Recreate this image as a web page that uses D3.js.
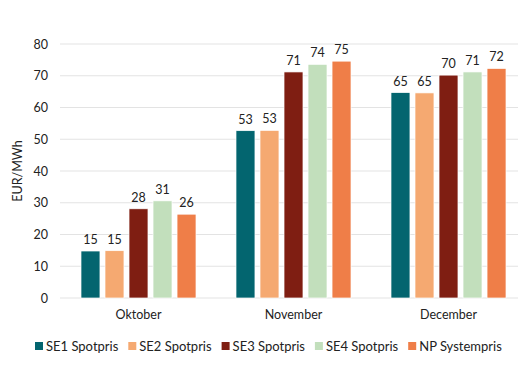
<!DOCTYPE html>
<html>
<head>
<meta charset="utf-8">
<script src="https://cdn.jsdelivr.net/npm/d3@7"></script>
<style>
  body { margin: 0; background: #fff; }
  svg { font-family: Lato, "Open Sans", sans-serif; }
</style>
</head>
<body>
<div id="chart"></div>
<script>
const months = ['Oktober', 'November', 'December'];
const seriesNames = ['SE1 Spotpris', 'SE2 Spotpris', 'SE3 Spotpris', 'SE4 Spotpris', 'NP Systempris'];
const seriesColors = ['#03656f', '#f5a971', '#7f1e12', '#c2dfbc', '#ef7e48'];
const se1 = [14.8, 52.7, 64.7];
const se2 = [14.9, 52.8, 64.6];
const se3 = [28.1, 71.2, 70.2];
const se4 = [30.6, 73.6, 71.2];
const np = [26.4, 74.6, 72.3];
const yTicks = [0, 10, 20, 30, 40, 50, 60, 70, 80];

const values = [se1, se2, se3, se4, np];
const w = 530, h = 377;
const margin = { left: 60, right: 12, top: 44, bottom: 79 };

const svg = d3.select('#chart')
  .append('svg')
  .attr('width', w)
  .attr('height', h);

const x0 = d3.scaleBand()
  .domain(months)
  .range([61, 526])
  .paddingInner(0.258)
  .paddingOuter(0.129);

const x1 = d3.scaleBand()
  .domain(seriesNames)
  .range([0, x0.bandwidth()])
  .paddingInner(0.21)
  .paddingOuter(0);

const y = d3.scaleLinear()
  .domain([0, 80])
  .range([h - margin.bottom, margin.top]);

// gridlines
svg.append('g')
  .selectAll('line')
  .data(yTicks)
  .enter()
  .append('line')
  .attr('x1', margin.left)
  .attr('x2', w - margin.right)
  .attr('y1', d => y(d))
  .attr('y2', d => y(d))
  .attr('stroke', '#e3e3e3')
  .attr('stroke-width', 1);

// y axis labels
const yAxis = svg.append('g')
  .attr('transform', 'translate(' + (margin.left - 12) + ',0)')
  .call(d3.axisLeft(y).tickValues(yTicks).tickSize(0).tickPadding(0));
yAxis.select('.domain').remove();
yAxis.selectAll('text')
  .attr('font-size', 12.5)
  .attr('font-family', 'Lato, "Open Sans", sans-serif')
  .attr('fill', '#222');

svg.append('text')
  .text('EUR/MWh')
  .attr('transform', 'translate(22,' + y(40) + ') rotate(-90)')
  .attr('text-anchor', 'middle')
  .attr('font-size', 12.5)
  .attr('fill', '#222');

// x axis labels
const xAxis = svg.append('g')
  .attr('transform', 'translate(0,' + (h - margin.bottom) + ')')
  .call(d3.axisBottom(x0).tickSize(0).tickPadding(12));
xAxis.select('.domain').remove();
xAxis.selectAll('text')
  .attr('font-size', 12.5)
  .attr('font-family', 'Lato, "Open Sans", sans-serif')
  .attr('fill', '#222');

// bars
const groups = svg.append('g')
  .selectAll('g')
  .data(months)
  .enter()
  .append('g')
  .attr('transform', d => 'translate(' + x0(d) + ',0)');

groups.selectAll('rect')
  .data((m, i) => seriesNames.map((s, j) => ({ s: s, v: values[j][i], c: seriesColors[j] })))
  .enter()
  .append('rect')
  .attr('x', d => x1(d.s))
  .attr('width', x1.bandwidth())
  .attr('y', d => y(d.v))
  .attr('height', d => y(0) - y(d.v))
  .attr('fill', d => d.c)
  .attr('stroke', '#fff')
  .attr('stroke-width', 0.7);

groups.selectAll('text')
  .data((m, i) => seriesNames.map((s, j) => ({ s: s, v: values[j][i] })))
  .enter()
  .append('text')
  .text(d => Math.round(d.v))
  .attr('x', d => x1(d.s) + x1.bandwidth() / 2)
  .attr('y', d => y(d.v) - 7)
  .attr('text-anchor', 'middle')
  .attr('font-size', 12.5)
  .attr('fill', '#222');

// legend
const legend = svg.append('g')
  .attr('transform', 'translate(35,346)');
const item = legend.selectAll('g')
  .data(seriesNames)
  .enter()
  .append('g')
  .attr('transform', (d, i) => 'translate(' + (i * 93.3) + ',0)');
item.append('rect')
  .attr('x', 0)
  .attr('y', -4)
  .attr('width', 8)
  .attr('height', 8)
  .attr('fill', (d, i) => seriesColors[i]);
item.append('text')
  .text(d => d)
  .attr('x', 11)
  .attr('y', 0)
  .attr('dy', '0.35em')
  .attr('font-size', 13)
  .attr('fill', '#222');
</script>
</body>
</html>
